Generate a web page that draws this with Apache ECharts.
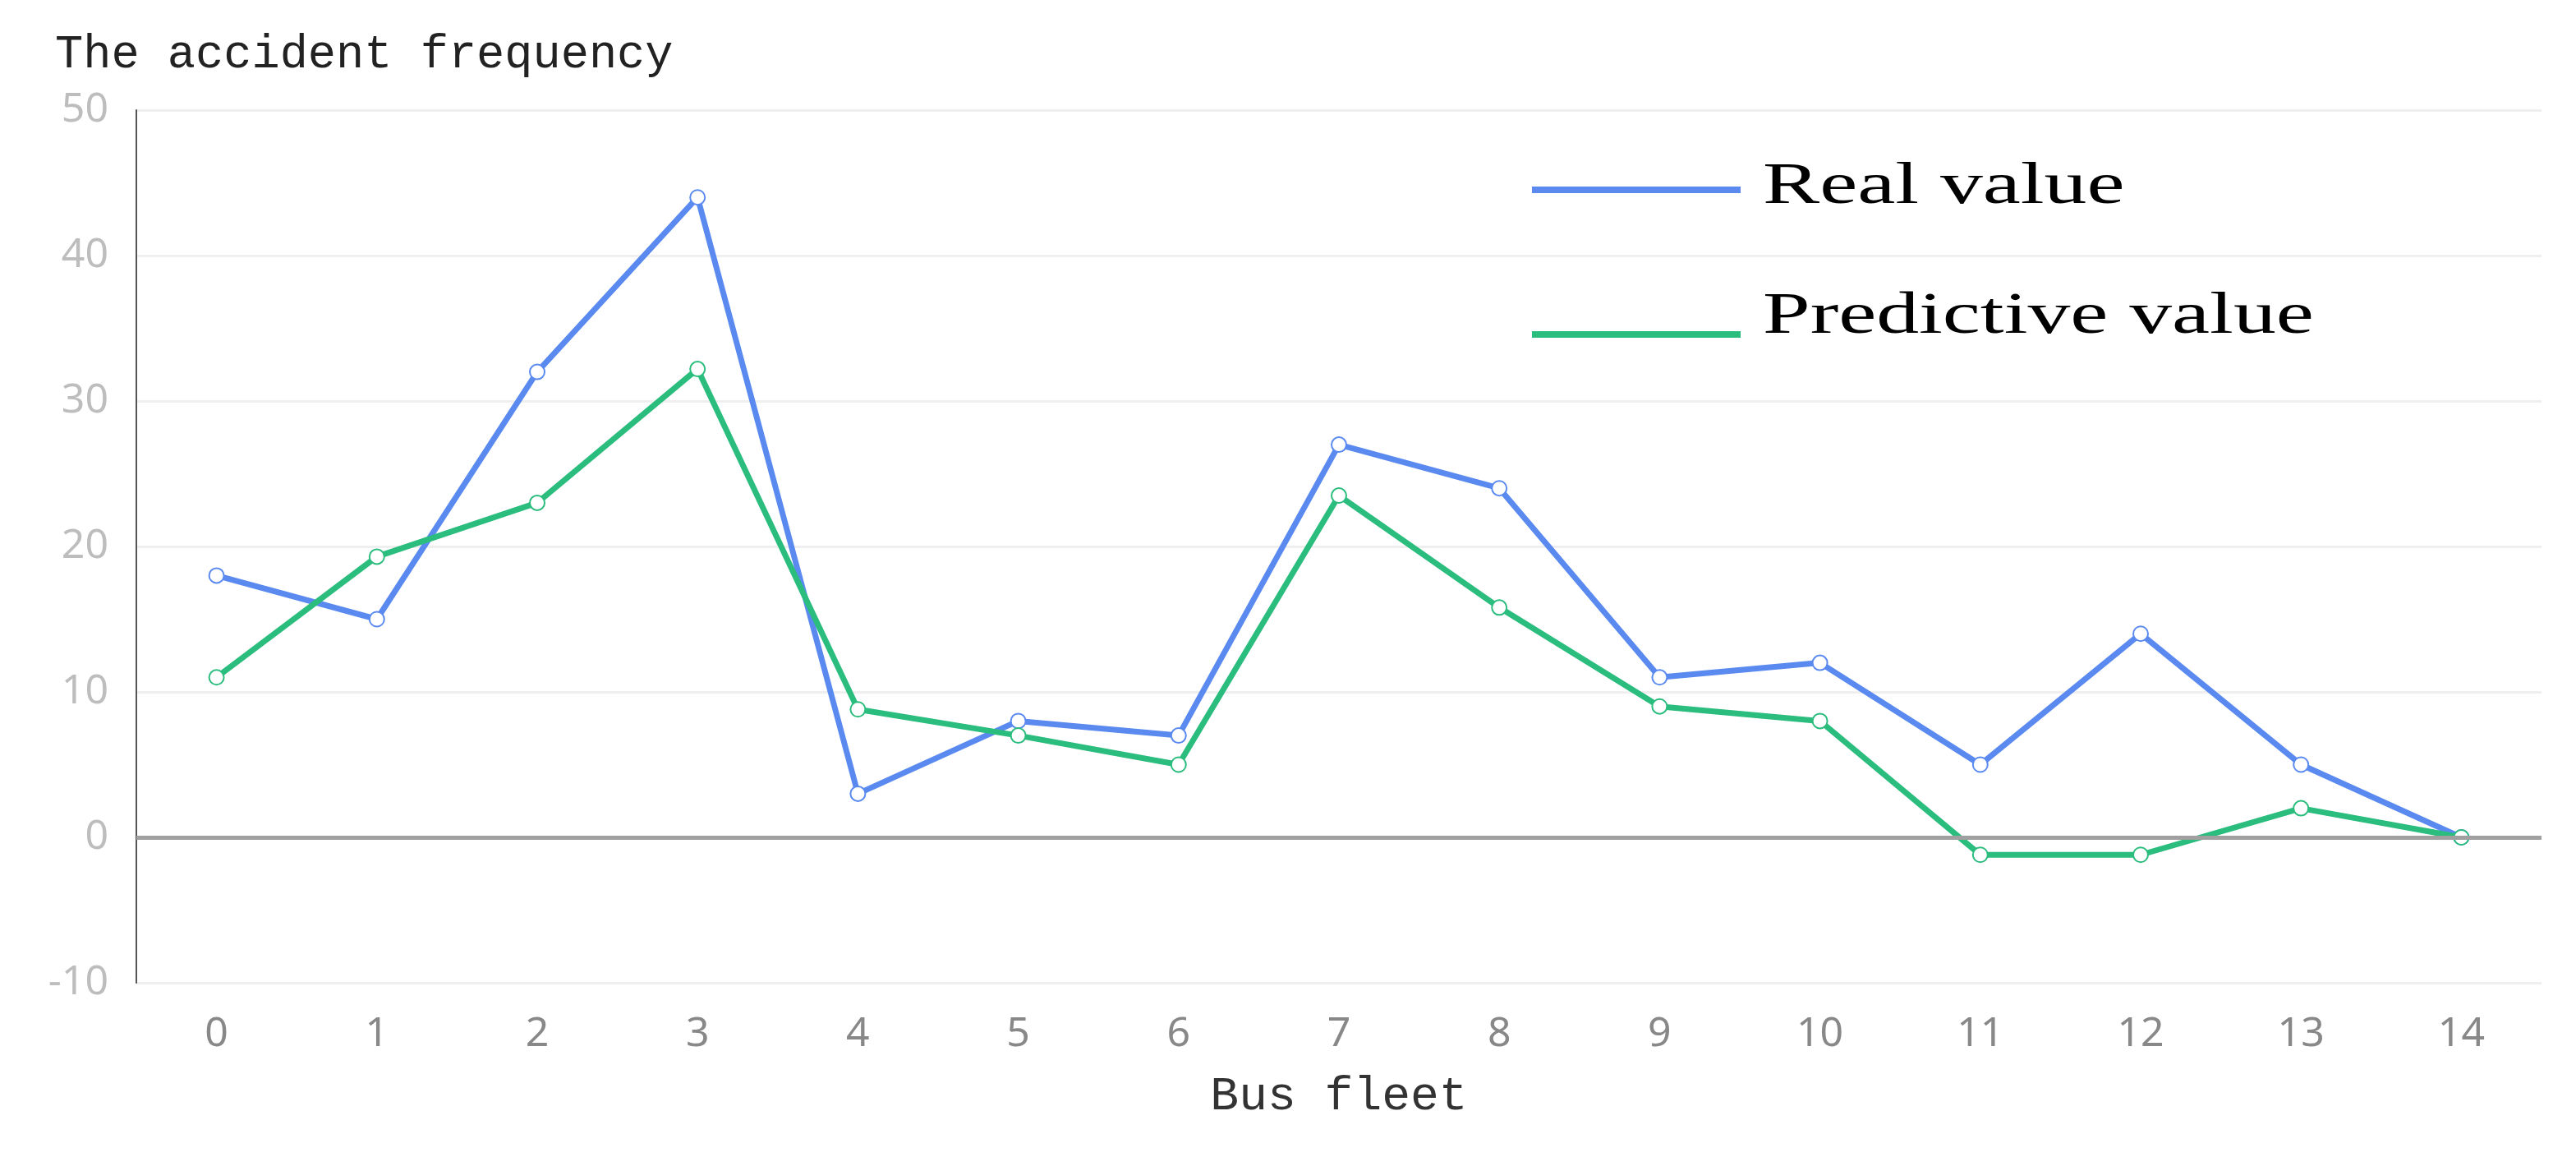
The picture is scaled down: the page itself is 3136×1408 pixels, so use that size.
<!DOCTYPE html>
<html>
<head>
<meta charset="utf-8">
<title>Accident frequency</title>
<script src="https://cdn.jsdelivr.net/npm/echarts@6/dist/echarts.min.js"></script>
<style>
  html, body { margin: 0; padding: 0; background: #fff; }
  #chart { width: 3136px; height: 1408px; }
</style>
</head>
<body>
<div id="chart"></div>
<script>
// bus fleet index on the x axis
var fleets = ['0', '1', '2', '3', '4', '5', '6', '7', '8', '9', '10', '11', '12', '13', '14']
// accident frequency
var realValues = [18, 15, 32, 44, 3, 8, 7, 27, 24, 11, 12, 5, 14, 5, 0]
var predictedValues = [11, 19.3, 23, 32.2, 8.8, 7, 5, 23.5, 15.8, 9, 8, -1.2, -1.2, 2, 0]
var seriesNames = ['Real value', 'Predictive value']

var chart = echarts.init(document.getElementById('chart'))

// the legend labels in the original look horizontally stretched,
// so the legend only draws the line icons and the names are graphic texts
function legendLabel(name, y) {
  return {
    type: 'text',
    x: 2146,
    y: y,
    scaleX: 1.44,
    silent: true,
    style: {
      text: name,
      fill: '#000',
      font: '72px "Liberation Serif"',
      textAlign: 'left',
      textVerticalAlign: 'middle'
    }
  }
}

chart.setOption({
  color: ['#5a8af0', '#2bbd7e'],
  animation: false,
  title: {
    text: 'The accident frequency',
    left: 62,
    top: 33,
    textStyle: {
      fontFamily: 'Liberation Mono',
      fontWeight: 'normal',
      fontSize: 57,
      color: '#222'
    }
  },
  legend: {
    orient: 'vertical',
    left: 1860,
    top: 222,
    itemGap: 168,
    itemWidth: 254,
    itemHeight: 8,
    icon: 'rect',
    formatter: function() { return '' },
    textStyle: { fontSize: 1 },
    data: seriesNames
  },
  graphic: [
    legendLabel(seriesNames[0], 228),
    legendLabel(seriesNames[1], 386)
  ],
  grid: {
    left: 166,
    right: 42,
    top: 134,
    bottom: 212
  },
  xAxis: {
    type: 'category',
    data: fleets,
    name: 'Bus fleet',
    nameLocation: 'middle',
    nameGap: 110,
    nameTextStyle: {
      fontFamily: 'Liberation Mono',
      fontSize: 58,
      color: '#333'
    },
    axisLine: { show: false, onZero: false },
    axisTick: { show: false },
    axisLabel: {
      margin: 38,
      fontFamily: 'Noto Sans',
      fontSize: 50,
      color: '#888'
    }
  },
  yAxis: {
    type: 'value',
    min: -10,
    max: 50,
    interval: 10,
    axisLine: { show: true, lineStyle: { color: '#555', width: 2 } },
    axisTick: { show: false },
    axisLabel: {
      margin: 34,
      fontFamily: 'Noto Sans',
      fontSize: 50,
      color: '#bdbdbd'
    },
    splitLine: { lineStyle: { color: '#efefef', width: 3 } }
  },
  series: [
    {
      name: seriesNames[0],
      type: 'line',
      data: realValues,
      symbol: 'emptyCircle',
      symbolSize: 18,
      z: 3,
      lineStyle: { width: 7 },
      itemStyle: { borderWidth: 5 },
      markLine: {
        silent: true,
        symbol: 'none',
        label: { show: false },
        lineStyle: { color: '#a0a0a0', width: 5, type: 'solid' },
        data: [{ yAxis: 0 }]
      }
    },
    {
      name: seriesNames[1],
      type: 'line',
      data: predictedValues,
      symbol: 'emptyCircle',
      symbolSize: 18,
      z: 4,
      lineStyle: { width: 7 },
      itemStyle: { borderWidth: 5 }
    }
  ]
})
</script>
</body>
</html>
